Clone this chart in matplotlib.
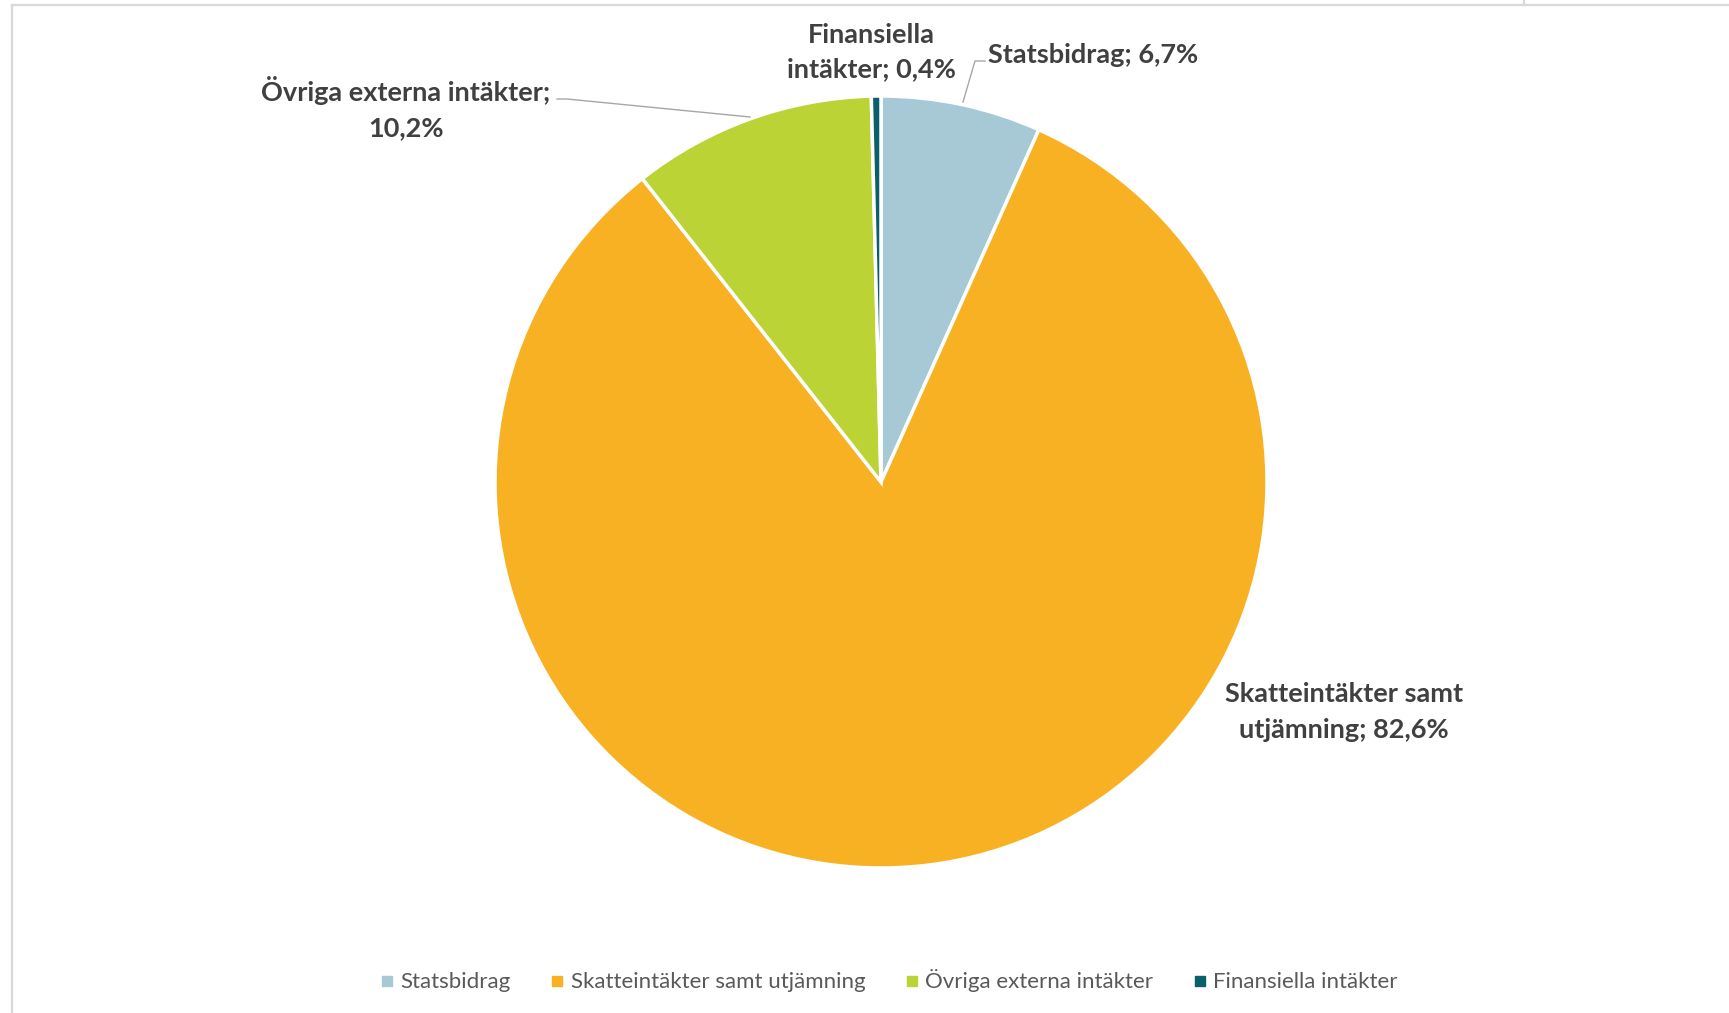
import matplotlib
matplotlib.use('Agg')
import matplotlib.pyplot as plt
from matplotlib.lines import Line2D

# ─── Data ────────────────────────────────────────────────────────────────────
CATEGORIES = ["Statsbidrag", "Skatteintäkter samt utjämning",
              "Övriga externa intäkter", "Finansiella intäkter"]
SHARES = [6.7, 82.6, 10.2, 0.4]
LABELS = ["Statsbidrag; 6,7%", "Skatteintäkter samt\nutjämning; 82,6%",
          "Övriga externa intäkter;\n10,2%", "Finansiella\nintäkter; 0,4%"]
COLORS = ["#A6C9D5", "#F8B122", "#BCD335", "#0B5E6B"]

W, H = 1729, 1013
TXT = "#404040"
LEAD = "#A6A6A6"
BORDER = "#D9D9D9"

plt.rcParams['font.family'] = ['Lato', 'DejaVu Sans']

fig = plt.figure(figsize=(W / 100, H / 100), dpi=100)
ax = fig.add_axes([0, 0, 1, 1])


def Y(yp):
    return H - yp


# ─── Pie ─────────────────────────────────────────────────────────────────────
ax.pie(SHARES, colors=COLORS, startangle=90, counterclock=False,
       center=(881, Y(482)), radius=386, frame=True,
       wedgeprops=dict(edgecolor='white', linewidth=2.5))
ax.set_xlim(0, W); ax.set_ylim(0, H); ax.set_aspect('equal'); ax.axis('off')

# ─── Data labels ─────────────────────────────────────────────────────────────
lab = dict(fontsize=19.5, fontweight='bold', color=TXT, linespacing=1.55)
ax.text(988, Y(55), LABELS[0], ha='left', va='center', **lab)
ax.text(1344, Y(712), LABELS[1], ha='center', va='center', **lab)
ax.text(406, Y(108), LABELS[2], ha='center', va='center', **lab)
ax.text(871, Y(52), LABELS[3], ha='center', va='center', **lab)

# leader lines
ax.plot([985, 975, 963], [Y(61), Y(61), Y(102)], color=LEAD, lw=1.0)
ax.plot([557, 567, 750], [Y(99), Y(99), Y(117)], color=LEAD, lw=1.0)

# ─── Chart-area border ───────────────────────────────────────────────────────
ax.plot([12, W], [Y(5), Y(5)], color=BORDER, lw=1.6, clip_on=False)
ax.plot([12, 12], [Y(5), 0], color=BORDER, lw=1.6, clip_on=False)
ax.plot([1524, 1524], [Y(0), Y(5)], color=BORDER, lw=1.6, clip_on=False)

# ─── Legend ──────────────────────────────────────────────────────────────────
handles = [Line2D([], [], ls='none', marker='s', markersize=7,
                  markerfacecolor=c, markeredgecolor=c) for c in COLORS]
ax.legend(handles, CATEGORIES, ncol=4, loc='center',
          bbox_to_anchor=(889 / W, 1 - 981 / H), frameon=False,
          fontsize=16, labelcolor='#595959', handlelength=0.6,
          handletextpad=0.3, columnspacing=1.8)

fig.savefig("out.png", dpi=100, facecolor='white')
